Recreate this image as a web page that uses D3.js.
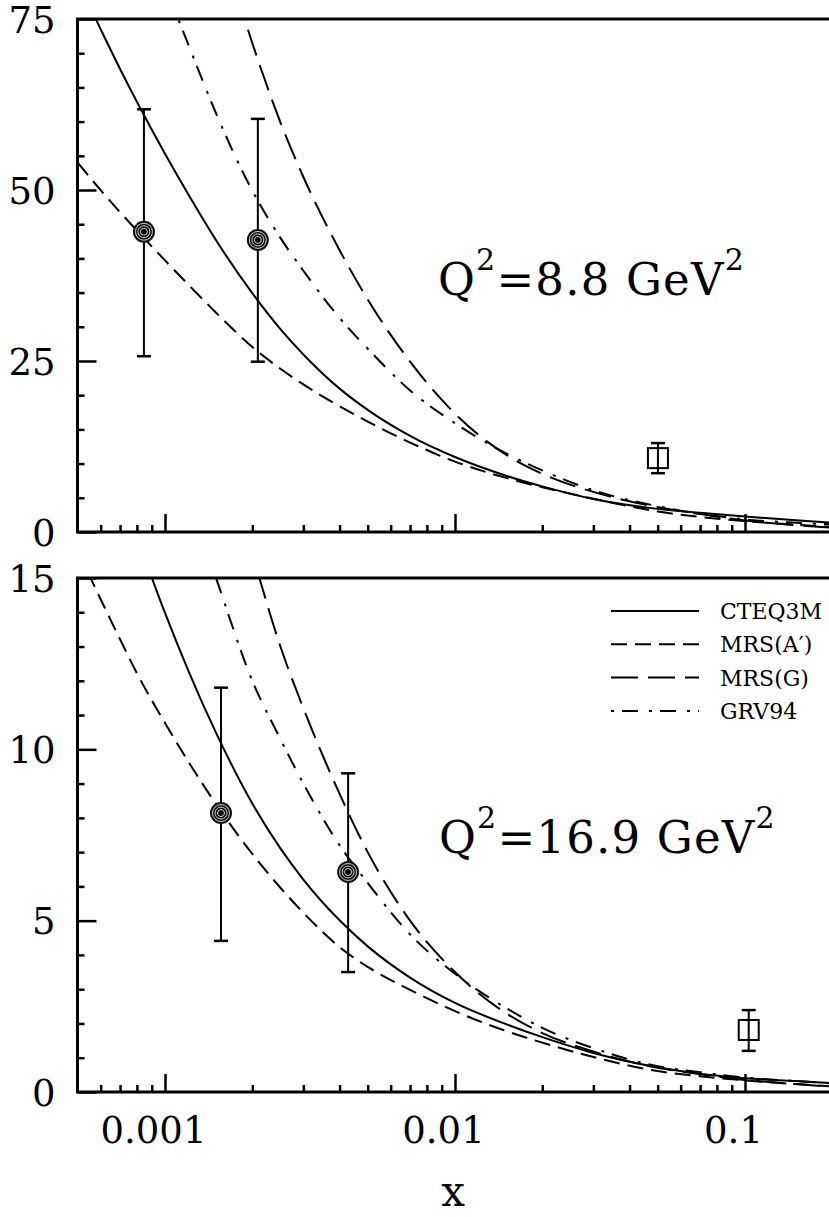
<!DOCTYPE html>
<html>
<head>
<meta charset="utf-8">
<script src="https://cdn.jsdelivr.net/npm/d3@7"></script>
<style>
  body { margin: 0; background: #fff; }
  svg text { font-family: 'DejaVu Serif', serif; fill: #000; }
</style>
</head>
<body>
<div id="chart"></div>
<script>
// x grid shared by all model curves
const xGrid = [0.0005, 0.0006, 0.0007, 0.0008, 0.001, 0.0012, 0.0015, 0.002, 0.0025, 0.003, 0.004,
               0.005, 0.007, 0.01, 0.015, 0.02, 0.03, 0.05, 0.07, 0.1, 0.15, 0.2];

// Q2 = 8.8 GeV2 panel
const topCteq = [80.6, 73.5, 67.7, 62.9, 55.3, 49.45, 42.66, 34.91, 29.67, 25.96, 20.96, 17.86, 14.06, 10.96, 8.23, 6.67, 4.82, 3.38, 2.8, 2.26, 1.73, 1.36];
const topMrsA = [54.0, 49.97, 46.75, 44.08, 39.71, 36.23, 32.06, 27.06, 23.86, 21.57, 18.38, 16.15, 13.08, 10.29, 7.91, 6.54, 4.87, 3.0, 2.2, 1.6, 1.05, 0.72];
const topMrsG = [null, null, null, null, null, null, 89, 71.5, 59.9, 51.9, 41.2, 34.0, 24.9, 17.3, 11.3, 8.5, 5.86, 3.64, 2.62, 1.69, 0.99, 0.61];
const topGrv  = [null, null, null, null, 80, 71.4, 61.2, 49.9, 43.0, 38.2, 31.3, 26.8, 20.7, 15.9, 11.5, 9.0, 6.1, 3.77, 2.67, 1.85, 1.35, 1.1];

// Q2 = 16.9 GeV2 panel
const botCteq = [null, null, null, 16.21, 13.98, 12.32, 10.48, 8.42, 7.11, 6.2, 5.01, 4.25, 3.34, 2.6, 1.98, 1.6, 1.14, 0.72, 0.53, 0.4, 0.32, 0.26];
const botMrsA = [15.8, 14.38, 13.21, 12.22, 10.77, 9.66, 8.4, 6.95, 5.96, 5.23, 4.23, 3.65, 2.98, 2.36, 1.78, 1.44, 1.02, 0.61, 0.46, 0.34, 0.23, 0.16];
const botMrsG = [null, null, null, null, null, null, 19.3, 15.7, 13.0, 11.2, 8.7, 7.0, 5.0, 3.5, 2.3, 1.72, 1.18, 0.71, 0.52, 0.35, 0.23, 0.15];
const botGrv  = [null, null, null, null, null, 17.4, 15.0, 12.0, 10.3, 9.0, 7.2, 6.1, 4.6, 3.45, 2.45, 1.87, 1.28, 0.75, 0.58, 0.42, 0.32, 0.25];

// measured points (circles) and the open square point
const topPtsX = [0.000846, 0.00209], topPtsY = [43.9, 42.7], topPtsLo = [25.7, 24.9], topPtsHi = [61.8, 60.4];
const topSqX = [0.0501], topSqY = [10.8], topSqLo = [8.6], topSqHi = [13.0];
const botPtsX = [0.00156, 0.00428], botPtsY = [8.14, 6.42], botPtsLo = [4.41, 3.50], botPtsHi = [11.8, 9.3];
const botSqX = [0.103], botSqY = [1.81], botSqLo = [1.2], botSqHi = [2.39];

const seriesNames = ['CTEQ3M', 'MRS(A\u2032)', 'MRS(G)', 'GRV94'];
const topYTicks = [0, 25, 50, 75];
const botYTicks = [0, 5, 10, 15];
const xTickLabels = ['0.001', '0.01', '0.1'];

const width = 829, height = 1217;
const dashes = { 'CTEQ3M': null, 'MRS(A\u2032)': '16,8', 'MRS(G)': '27,10', 'GRV94': '3,8,16,11' };

const svg = d3.select('#chart').append('svg')
    .attr('width', width)
    .attr('height', height);

const x = d3.scaleLog().domain([0.0005, 0.2]).range([77.7, 832.3]);
const left = 77.5, right = 840;

function drawPanel(id, cfg) {
    const y = d3.scaleLinear().domain(cfg.yDomain).range([cfg.bottom, cfg.top]);
    const g = svg.append('g');

    g.append('defs').append('clipPath')
        .attr('id', `${id}-clip`)
        .append('rect')
        .attr('x', left).attr('y', cfg.top)
        .attr('width', right - left).attr('height', cfg.bottom - cfg.top);

    // y ticks (inward)
    const yAxis = g.append('g')
        .attr('transform', `translate(${left},0)`)
        .call(d3.axisLeft(y).tickValues(cfg.yTicks).tickSize(-19).tickPadding(22).tickFormat(d3.format('d')));
    yAxis.select('.domain').remove();
    yAxis.selectAll('line').attr('stroke-width', 2.5);
    yAxis.selectAll('text').attr('font-size', 37).attr('font-family', 'DejaVu Serif').attr('dy', '0.36em');

    const yMinor = g.append('g')
        .attr('transform', `translate(${left},0)`)
        .call(d3.axisLeft(y).tickValues(d3.range(cfg.yDomain[0], cfg.yDomain[1], cfg.minorStep)
            .filter(v => !cfg.yTicks.includes(v))).tickSize(-7).tickFormat(''));
    yMinor.select('.domain').remove();
    yMinor.selectAll('line').attr('stroke-width', 2.5);

    // x ticks (inward)
    const majors = [0.001, 0.01, 0.1];
    const xAxis = g.append('g')
        .attr('transform', `translate(0,${cfg.bottom})`)
        .call(d3.axisBottom(x).tickValues(majors).tickSize(-18).tickPadding(25)
            .tickFormat((d, i) => cfg.xLabels ? xTickLabels[i] : ''));
    xAxis.select('.domain').remove();
    xAxis.selectAll('line').attr('stroke-width', 2.5);
    xAxis.selectAll('text').attr('font-size', 37).attr('font-family', 'DejaVu Serif').attr('dx', -12);

    const minors = x.ticks().filter(v => !majors.some(m => Math.abs(m - v) / m < 1e-6) && x(v) > left + 2);
    const xMinor = g.append('g')
        .attr('transform', `translate(0,${cfg.bottom})`)
        .call(d3.axisBottom(x).tickValues(minors).tickSize(-7).tickFormat(''));
    xMinor.select('.domain').remove();
    xMinor.selectAll('line').attr('stroke-width', 2.5);

    // frame
    g.append('path')
        .attr('d', `M${right},${cfg.top} L${left},${cfg.top} L${left},${cfg.bottom} L${right},${cfg.bottom}`)
        .attr('fill', 'none').attr('stroke', '#000').attr('stroke-width', 3);

    // curves
    const line = d3.line()
        .defined(d => d[1] != null)
        .x(d => x(d[0]))
        .y(d => y(d[1]))
        .curve(d3.curveMonotoneX);

    cfg.series.forEach((vals, i) => {
        g.append('path')
            .datum(xGrid.map((xv, j) => [xv, vals[j]]))
            .attr('d', line)
            .attr('clip-path', `url(#${id}-clip)`)
            .attr('fill', 'none')
            .attr('stroke', '#000')
            .attr('stroke-width', 2)
            .attr('stroke-dasharray', dashes[seriesNames[i]]);
    });

    // error bars
    function errBars(xs, lo, hi) {
        xs.forEach((xv, i) => {
            g.append('line')
                .attr('x1', x(xv)).attr('x2', x(xv))
                .attr('y1', y(lo[i])).attr('y2', y(hi[i]))
                .attr('stroke', '#000').attr('stroke-width', 2);
            [lo[i], hi[i]].forEach(v => {
                g.append('line')
                    .attr('x1', x(xv) - 7).attr('x2', x(xv) + 7)
                    .attr('y1', y(v)).attr('y2', y(v))
                    .attr('stroke', '#000').attr('stroke-width', 2.5);
            });
        });
    }
    errBars(cfg.ptsX, cfg.ptsLo, cfg.ptsHi);
    errBars(cfg.sqX, cfg.sqLo, cfg.sqHi);

    // circle markers with concentric rings
    cfg.ptsX.forEach((xv, i) => {
        const cx = x(xv), cy = y(cfg.ptsY[i]);
        g.append('circle').attr('cx', cx).attr('cy', cy).attr('r', 11).attr('fill', '#111');
        [8.5, 6, 3.5].forEach(r => {
            g.append('circle').attr('cx', cx).attr('cy', cy).attr('r', r)
                .attr('fill', 'none').attr('stroke', '#ddd').attr('stroke-width', 0.9);
        });
        g.append('circle').attr('cx', cx).attr('cy', cy).attr('r', 1.8).attr('fill', '#000');
    });

    // open squares
    cfg.sqX.forEach((xv, i) => {
        g.append('rect')
            .attr('x', x(xv) - 10).attr('y', y(cfg.sqY[i]) - 10)
            .attr('width', 20).attr('height', 20)
            .attr('fill', 'none').attr('stroke', '#000').attr('stroke-width', 2);
    });

    // Q2 label
    const t = g.append('text')
        .attr('x', cfg.labelX).attr('y', cfg.labelY)
        .attr('font-size', 45)
        .attr('letter-spacing', 1.2);
    t.append('tspan').text('Q');
    t.append('tspan').attr('font-size', 30).attr('dy', -25).text('2');
    t.append('tspan').attr('dy', 25).text(`=${cfg.q2}\u00a0GeV`);
    t.append('tspan').attr('font-size', 30).attr('dy', -25).text('2');
}

drawPanel('top', {
    yDomain: [0, 75], top: 19, bottom: 532, yTicks: topYTicks, minorStep: 5, xLabels: false,
    series: [topCteq, topMrsA, topMrsG, topGrv],
    ptsX: topPtsX, ptsY: topPtsY, ptsLo: topPtsLo, ptsHi: topPtsHi,
    sqX: topSqX, sqY: topSqY, sqLo: topSqLo, sqHi: topSqHi,
    q2: '8.8', labelX: 438, labelY: 295
});

drawPanel('bot', {
    yDomain: [0, 15], top: 578, bottom: 1092, yTicks: botYTicks, minorStep: 1, xLabels: true,
    series: [botCteq, botMrsA, botMrsG, botGrv],
    ptsX: botPtsX, ptsY: botPtsY, ptsLo: botPtsLo, ptsHi: botPtsHi,
    sqX: botSqX, sqY: botSqY, sqLo: botSqLo, sqHi: botSqHi,
    q2: '16.9', labelX: 439, labelY: 853
});

// legend
const legend = svg.append('g').attr('transform', 'translate(611,611)');
seriesNames.forEach((name, i) => {
    const row = legend.append('g').attr('transform', `translate(0,${i * 33.3})`);
    row.append('line')
        .attr('x1', 0).attr('x2', 88).attr('y1', 0).attr('y2', 0)
        .attr('stroke', '#000').attr('stroke-width', 2)
        .attr('stroke-dasharray', dashes[name]);
    row.append('text')
        .attr('x', 109).attr('y', 8)
        .attr('font-size', 22)
        .text(name);
});

// x axis title
svg.append('text')
    .attr('x', 453).attr('y', 1206)
    .attr('text-anchor', 'middle')
    .attr('font-size', 42)
    .text('x');
</script>
</body>
</html>
